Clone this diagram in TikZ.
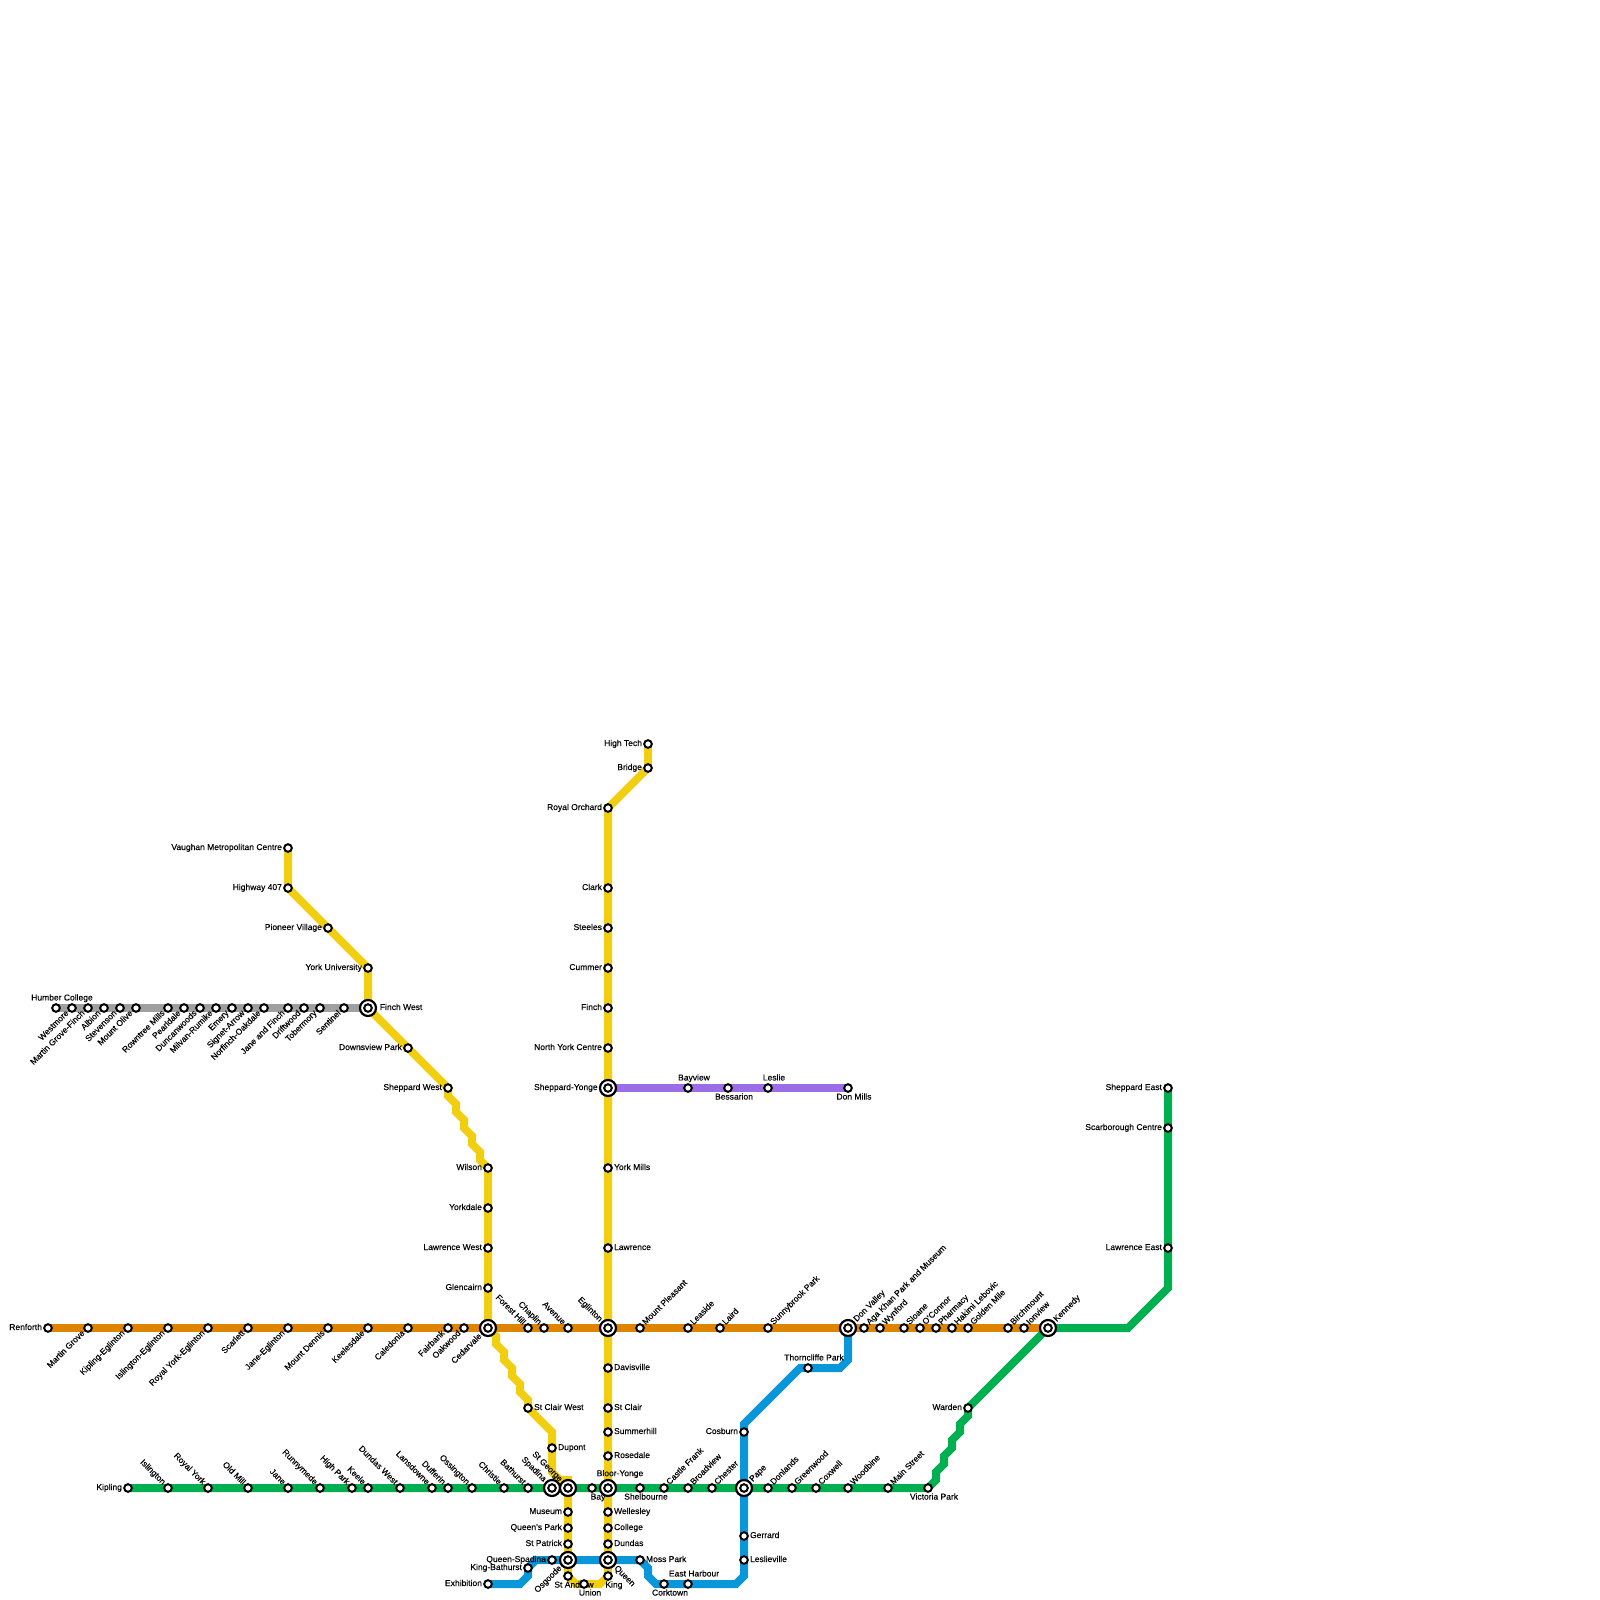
\documentclass[tikz,border=0pt]{standalone}
\usepackage{fontspec}
\setmainfont{Liberation Sans}[FakeBold=0.2]
\usetikzlibrary{backgrounds}
\definecolor{lineGrey}{HTML}{A0A0A0}
\definecolor{lineYellow}{HTML}{F2CE11}
\definecolor{lineOrange}{HTML}{DE8500}
\definecolor{lineGreen}{HTML}{00B050}
\definecolor{lineBlue}{HTML}{0A97D9}
\definecolor{linePurple}{HTML}{9B6EE8}

\begin{document}
\begin{tikzpicture}[x=.025cm,y=-.025cm,
	stn/.style={shape=circle,draw=black,fill=white,line width=.05cm,minimum size=.19cm,inner sep=0pt},
	hub/.style={shape=circle,draw=black,fill=white,line width=.055cm,minimum size=.4cm,inner sep=0pt,
		path picture={\draw[line width=.05cm] (path picture bounding box.center) circle (.095cm);}},
	lab/.style={font=\fontsize{6.05}{7}\selectfont,inner sep=.7pt,text height=.137cm,text depth=.037cm},
	lblLeft/.style={label={[lab]left:#1}},
	lblRight/.style={label={[lab]right:#1}},
	lblAbove/.style={label={[lab,xshift=.15cm]above:#1}},
	lblBelow/.style={label={[lab,xshift=.15cm]below:#1}},
	lblNE/.style={label={[lab,rotate=45,anchor=west]45:#1}},
	lblNW/.style={label={[lab,rotate=-45,anchor=east]135:#1}},
	lblSW/.style={label={[lab,rotate=45,anchor=east]225:#1}},
	lblSE/.style={label={[lab,rotate=-45,anchor=west]-45:#1}},
	track/.style={line width=.2cm,line join=miter},
]
	\useasboundingbox (0,0) rectangle (1600,1600);

	% create grey line stations
	\node (humberCollege) [stn,lblAbove={Humber College}] at (56,1008) {};
	\node (westmore) [stn,lblSW={Westmore}] at (72,1008) {};
	\node (martinGroveFinch) [stn,lblSW={Martin Grove-Finch}] at (88,1008) {};
	\node (albion) [stn,lblSW={Albion}] at (104,1008) {};
	\node (stevenson) [stn,lblSW={Stevenson}] at (120,1008) {};
	\node (mountOlive) [stn,lblSW={Mount Olive}] at (136,1008) {};
	\node (rowntreeMills) [stn,lblSW={Rowntree Mills}] at (168,1008) {};
	\node (pearldale) [stn,lblSW={Pearldale}] at (184,1008) {};
	\node (duncanwoods) [stn,lblSW={Duncanwoods}] at (200,1008) {};
	\node (milvanRumike) [stn,lblSW={Milvan-Rumike}] at (216,1008) {};
	\node (emery) [stn,lblSW={Emery}] at (232,1008) {};
	\node (signetArrow) [stn,lblSW={Signet-Arrow}] at (248,1008) {};
	\node (norfinchOakdale) [stn,lblSW={Norfinch-Oakdale}] at (264,1008) {};
	\node (janeFinch) [stn,lblSW={Jane and Finch}] at (288,1008) {};
	\node (driftwood) [stn,lblSW={Driftwood}] at (304,1008) {};
	\node (tobermory) [stn,lblSW={Tobermory}] at (320,1008) {};
	\node (sentinel) [stn,lblSW={Sentinel}] at (344,1008) {};
	\node (finchWest) [hub,lblRight={\hspace{.04cm}Finch West}] at (368,1008) {};

	% create yellow line stations
	\node (vaughan) [stn,lblLeft={Vaughan Metropolitan Centre}] at (288,848) {};
	\node (highway407) [stn,lblLeft={Highway 407}] at (288,888) {};
	\node (pioneerVillage) [stn,lblLeft={Pioneer Village}] at (328,928) {};
	\node (yorkUniversity) [stn,lblLeft={York University}] at (368,968) {};
	\node (downsviewPark) [stn,lblLeft={Downsview Park}] at (408,1048) {};
	\node (sheppardWest) [stn,lblLeft={Sheppard West}] at (448,1088) {};
	\node (wilson) [stn,lblLeft={Wilson}] at (488,1168) {};
	\node (yorkdale) [stn,lblLeft={Yorkdale}] at (488,1208) {};
	\node (lawrenceWest) [stn,lblLeft={Lawrence West}] at (488,1248) {};
	\node (glencairn) [stn,lblLeft={Glencairn}] at (488,1288) {};
	\node (stClairWest) [stn,lblRight={St Clair West}] at (528,1408) {};
	\node (dupont) [stn,lblRight={Dupont}] at (552,1448) {};
	\node (museum) [stn,lblLeft={Museum}] at (568,1512) {};
	\node (queensPark) [stn,lblLeft={Queen's Park}] at (568,1528) {};
	\node (stPatrick) [stn,lblLeft={St Patrick}] at (568,1544) {};
	\node (stAndrew) [stn,label={[lab,xshift=.15cm]below:St Andrew}] at (568,1576) {};
	\node (union) [stn,lblBelow={Union}] at (584,1584) {};
	\node (king) [stn,lblBelow={King}] at (608,1576) {};
	\node (dundas) [stn,lblRight={Dundas}] at (608,1544) {};
	\node (college) [stn,lblRight={College}] at (608,1528) {};
	\node (wellesley) [stn,lblRight={Wellesley}] at (608,1512) {};
	\node (rosedale) [stn,lblRight={Rosedale}] at (608,1456) {};
	\node (summerhill) [stn,lblRight={Summerhill}] at (608,1432) {};
	\node (stClair) [stn,lblRight={St Clair}] at (608,1408) {};
	\node (davisville) [stn,lblRight={Davisville}] at (608,1368) {};
	\node (lawrence) [stn,lblRight={Lawrence}] at (608,1248) {};
	\node (yorkMills) [stn,lblRight={York Mills}] at (608,1168) {};
	\node (sheppardYonge) [hub,lblLeft={Sheppard-Yonge\hspace{.04cm}}] at (608,1088) {};
	\node (northYork) [stn,lblLeft={North York Centre}] at (608,1048) {};
	\node (finch) [stn,lblLeft={Finch}] at (608,1008) {};
	\node (cummer) [stn,lblLeft={Cummer}] at (608,968) {};
	\node (steeles) [stn,lblLeft={Steeles}] at (608,928) {};
	\node (clark) [stn,lblLeft={Clark}] at (608,888) {};
	\node (royalOrchard) [stn,lblLeft={Royal Orchard}] at (608,808) {};
	\node (bridge) [stn,lblLeft={Bridge}] at (648,768) {};
	\node (highTech) [stn,lblLeft={High Tech}] at (648,744) {};

	% create orange line stations
	\node (renforth) [stn,lblLeft={Renforth}] at (48,1328) {};
	\node (martinGrove) [stn,lblSW={Martin Grove}] at (88,1328) {};
	\node (kiplingEglinton) [stn,lblSW={Kipling-Eglinton}] at (128,1328) {};
	\node (islingtonEglinton) [stn,lblSW={Islington-Eglinton}] at (168,1328) {};
	\node (royalYorkEglinton) [stn,lblSW={Royal York-Eglinton}] at (208,1328) {};
	\node (scarlett) [stn,lblSW={Scarlett}] at (248,1328) {};
	\node (janeEglinton) [stn,lblSW={Jane-Eglinton}] at (288,1328) {};
	\node (mountDennis) [stn,lblSW={Mount Dennis}] at (328,1328) {};
	\node (keelesdale) [stn,lblSW={Keelesdale}] at (368,1328) {};
	\node (caledonia) [stn,lblSW={Caledonia}] at (408,1328) {};
	\node (fairbank) [stn,lblSW={Fairbank}] at (448,1328) {};
	\node (oakwood) [stn,lblSW={Oakwood}] at (464,1328) {};
	\node (cedarvale) [hub,lblSW={Cedarvale}] at (488,1328) {};
	\node (forestHill) [stn,lblNW={Forest Hill}] at (528,1328) {};
	\node (chaplin) [stn,lblNW={Chaplin}] at (544,1328) {};
	\node (avenue) [stn,lblNW={Avenue}] at (568,1328) {};
	\node (eglinton) [hub,lblNW={Eglinton}] at (608,1328) {};
	\node (mountPleasant) [stn,lblNE={Mount Pleasant}] at (640,1328) {};
	\node (leaside) [stn,lblNE={Leaside}] at (688,1328) {};
	\node (laird) [stn,lblNE={Laird}] at (720,1328) {};
	\node (sunnybrookPark) [stn,lblNE={Sunnybrook Park}] at (768,1328) {};
	\node (donValley) [hub,lblNE={Don Valley}] at (848,1328) {};
	\node (agaKhan) [stn,lblNE={Aga Khan Park and Museum}] at (864,1328) {};
	\node (wynford) [stn,lblNE={Wynford}] at (880,1328) {};
	\node (sloane) [stn,lblNE={Sloane}] at (904,1328) {};
	\node (oConnor) [stn,lblNE={O'Connor}] at (920,1328) {};
	\node (pharmacy) [stn,lblNE={Pharmacy}] at (936,1328) {};
	\node (hakimiLebovic) [stn,lblNE={Hakimi Lebovic}] at (952,1328) {};
	\node (goldenMile) [stn,lblNE={Golden Mile}] at (968,1328) {};
	\node (birchmount) [stn,lblNE={Birchmount}] at (1008,1328) {};
	\node (ionview) [stn,lblNE={Ionview}] at (1024,1328) {};
	\node (kennedy) [hub,lblNE={Kennedy}] at (1048,1328) {};

	% create green line stations
	\node (kipling) [stn,lblLeft={Kipling}] at (128,1488) {};
	\node (islington) [stn,lblNW={Islington}] at (168,1488) {};
	\node (royalYork) [stn,lblNW={Royal York}] at (208,1488) {};
	\node (oldMill) [stn,lblNW={Old Mill}] at (248,1488) {};
	\node (jane) [stn,lblNW={Jane}] at (288,1488) {};
	\node (runnymede) [stn,lblNW={Runnymede}] at (320,1488) {};
	\node (highPark) [stn,lblNW={High Park}] at (352,1488) {};
	\node (keele) [stn,lblNW={Keele}] at (368,1488) {};
	\node (dundasWest) [stn,lblNW={Dundas West}] at (400,1488) {};
	\node (lansdowne) [stn,lblNW={Lansdowne}] at (432,1488) {};
	\node (dufferin) [stn,lblNW={Dufferin}] at (448,1488) {};
	\node (ossington) [stn,lblNW={Ossington}] at (472,1488) {};
	\node (christie) [stn,lblNW={Christie}] at (504,1488) {};
	\node (bathurst) [stn,lblNW={Bathurst}] at (528,1488) {};
	\node (spadina) [hub,lblNW={Spadina}] at (552,1488) {};
	\node (stGeorge) [hub,lblNW={St George}] at (568,1488) {};
	\node (bay) [stn,lblBelow={Bay}] at (592,1488) {};
	\node (bloorYonge) [hub,label={[lab,xshift=.3cm]above:Bloor-Yonge}] at (608,1488) {};
	\node (shelbourne) [stn,lblBelow={Shelbourne}] at (640,1488) {};
	\node (castleFrank) [stn,lblNE={Castle Frank}] at (664,1488) {};
	\node (broadview) [stn,lblNE={Broadview}] at (688,1488) {};
	\node (chester) [stn,lblNE={Chester}] at (712,1488) {};
	\node (pape) [hub,lblNE={Pape}] at (744,1488) {};
	\node (donlands) [stn,lblNE={Donlands}] at (768,1488) {};
	\node (greenwood) [stn,lblNE={Greenwood}] at (792,1488) {};
	\node (coxwell) [stn,lblNE={Coxwell}] at (816,1488) {};
	\node (woodbine) [stn,lblNE={Woodbine}] at (848,1488) {};
	\node (mainStreet) [stn,lblNE={Main Street}] at (888,1488) {};
	\node (victoriaPark) [stn,lblBelow={Victoria Park}] at (928,1488) {};
	\node (warden) [stn,lblLeft={Warden}] at (968,1408) {};
	\node (lawrenceEast) [stn,lblLeft={Lawrence East}] at (1168,1248) {};
	\node (scarboroughCentre) [stn,lblLeft={Scarborough Centre}] at (1168,1128) {};
	\node (sheppardEast) [stn,lblLeft={Sheppard East}] at (1168,1088) {};

	% create blue line stations
	\node (exhibition) [stn,lblLeft={Exhibition}] at (488,1584) {};
	\node (kingBathurst) [stn,lblLeft={King-Bathurst}] at (528,1568) {};
	\node (queenSpadina) [stn,lblLeft={Queen-Spadina}] at (552,1560) {};
	\node (osgoode) [hub,lblSW={Osgoode}] at (568,1560) {};
	\node (queen) [hub,lblSE={Queen}] at (608,1560) {};
	\node (mossPark) [stn,lblRight={Moss Park}] at (640,1560) {};
	\node (corktown) [stn,lblBelow={Corktown}] at (664,1584) {};
	\node (eastHarbour) [stn,lblAbove={East Harbour}] at (688,1584) {};
	\node (leslieville) [stn,lblRight={Leslieville}] at (744,1560) {};
	\node (gerrard) [stn,lblRight={Gerrard}] at (744,1536) {};
	\node (cosburn) [stn,lblLeft={Cosburn}] at (744,1432) {};
	\node (thorncliffePark) [stn,label={[lab,xshift=.15cm]above:Thorncliffe Park}] at (808,1368) {};

	% create purple line stations
	\node (bayview) [stn,lblAbove={Bayview}] at (688,1088) {};
	\node (bessarion) [stn,lblBelow={Bessarion}] at (728,1088) {};
	\node (leslie) [stn,lblAbove={Leslie}] at (768,1088) {};
	\node (donMills) [stn,lblBelow={Don Mills}] at (848,1088) {};

	% indicates the lines via connections
	\begin{scope}[on background layer]
		\draw[track,lineGrey] (humberCollege.center) to (finchWest.center);
		\draw[track,lineOrange] (renforth.center) to (kennedy.center);
		\draw[track,lineGreen] (kipling.center) to (victoriaPark.center) -- (936,1480) -- (936,1472) -- (944,1464) -- (944,1456) -- (952,1448) -- (952,1440) -- (960,1432) -- (960,1424) -- (968,1416) -- (warden.center) -- (kennedy.center) -- (1128,1328) -- (1168,1288) -- (lawrenceEast.center) -- (sheppardEast.center);
		\draw[track,linePurple] (sheppardYonge.center) to (donMills.center);
		\draw[track,lineBlue] (exhibition.center) -- (520,1584) -- (528,1576) -- (kingBathurst.center) -- (536,1560) -- (mossPark.center) -- (648,1568) -- (648,1576) -- (656,1584) -- (736,1584) -- (744,1576) -- (cosburn.center) -- (744,1424) -- (800,1368) -- (840,1368) -- (848,1360) -- (donValley.center);
		\draw[track,lineYellow] (vaughan.center) -- (highway407.center) -- (yorkUniversity.center) -- (finchWest.center) -- (sheppardWest.center) -- (448,1096) -- (456,1104) -- (456,1112) -- (464,1120) -- (464,1128) -- (472,1136) -- (472,1144) -- (480,1152) -- (480,1160) -- (wilson.center) -- (cedarvale.center) -- (496,1336) -- (496,1344) -- (504,1352) -- (504,1360) -- (512,1368) -- (512,1376) -- (520,1384) -- (520,1392) -- (528,1400) -- (stClairWest.center) -- (552,1432) -- (552,1472) -- (560,1480) -- (568,1480) -- (stAndrew.center) -- (576,1584) -- (600,1584) -- (king.center) -- (royalOrchard.center) -- (bridge.center) -- (highTech.center);
	\end{scope}
\end{tikzpicture}
\end{document}
